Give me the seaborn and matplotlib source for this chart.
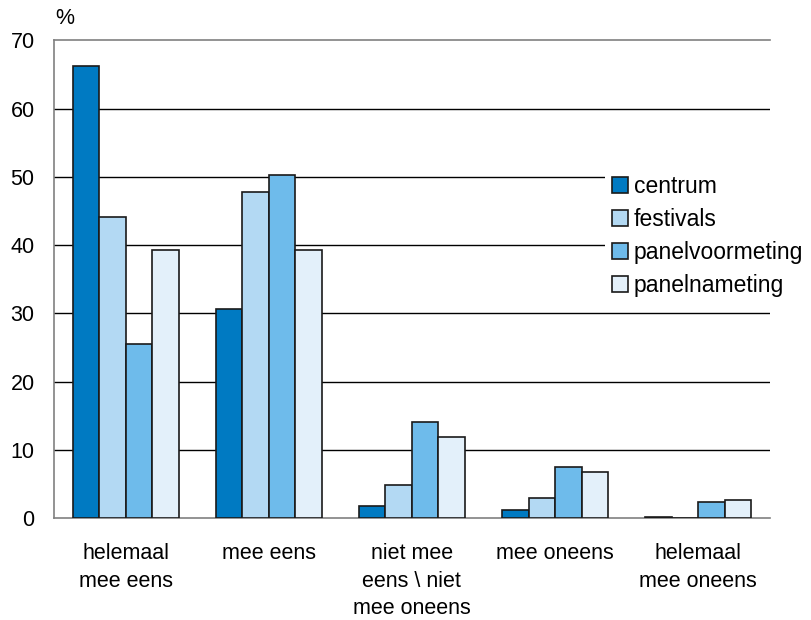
import pandas as pd
import matplotlib
matplotlib.use("Agg")
import matplotlib.pyplot as plt
import seaborn as sns

# 数据
categories = ["helemaal\nmee eens", "mee eens", "niet mee\neens \\ niet\nmee oneens",
              "mee oneens", "helemaal\nmee oneens"]
groups = ["centrum", "festivals", "panelvoormeting", "panelnameting"]
centrum = [66.2, 30.7, 1.7, 1.2, 0.1]
festivals = [44.1, 47.8, 4.9, 3.0, 0.0]
panelvoormeting = [25.5, 50.2, 14.0, 7.5, 2.3]
panelnameting = [39.2, 39.2, 11.8, 6.8, 2.7]
colors = ["#007AC2", "#B3D9F3", "#6EBBEB", "#E3F0FA"]

df = pd.DataFrame({
    "cat": categories * 4,
    "groep": [g for g in groups for _ in categories],
    "waarde": centrum + festivals + panelvoormeting + panelnameting,
})

sns.set_theme(style="white")
plt.rcParams['font.family'] = ['Liberation Sans', 'DejaVu Sans']
plt.rcParams['font.size'] = 15.5
plt.rcParams['text.color'] = 'black'

fig = plt.figure(figsize=(8.11, 6.2), dpi=100)
ax = fig.add_axes([0.0666, 0.1645, 0.8826, 0.7705])

sns.barplot(data=df, x="cat", y="waarde", hue="groep", palette=colors,
            width=0.74, edgecolor="#1a1a1a", linewidth=1.2, saturation=1,
            ax=ax, zorder=3)

ax.set_ylim(0, 70)
ax.set_xlim(-0.5, 4.5)
ax.set_yticks(range(0, 71, 10))
ax.yaxis.grid(True, color="black", linewidth=1)
ax.set_axisbelow(True)
ax.get_ygridlines()[-1].set_visible(False)
ax.get_ygridlines()[0].set_visible(False)

for s in ["top", "left", "bottom"]:
    ax.spines[s].set_color("#808080")
    ax.spines[s].set_linewidth(1.2)
ax.spines["right"].set_visible(False)

ax.tick_params(axis="y", length=0, pad=14, labelsize=15.5, colors="black")
ax.tick_params(axis="x", length=0, pad=18, labelsize=15.5, colors="black")
for lbl in ax.get_xticklabels():
    lbl.set_linespacing(1.42)
ax.set_xlabel("")
ax.set_ylabel("")
fig.text(0.080, 0.970, "%", fontsize=15.5, ha="center", va="center", color="black")

leg = ax.legend(loc="upper left", bbox_to_anchor=(0.7696, 0.732), frameon=True,
                fontsize=16.5, handlelength=0.7, handleheight=0.7,
                handletextpad=0.26, labelspacing=0.43, borderpad=0.3,
                borderaxespad=0, fancybox=False, labelcolor="black")
leg.get_frame().set_facecolor("white")
leg.get_frame().set_edgecolor("none")
leg.get_frame().set_alpha(1)
leg.set_zorder(5)

fig.savefig("out.png", dpi=100)
